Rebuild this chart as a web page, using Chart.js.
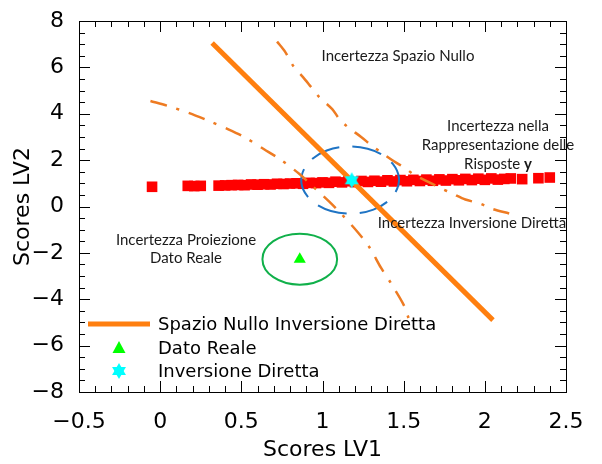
<!DOCTYPE html>
<html>
<head>
<meta charset="utf-8">
<script src="https://cdn.jsdelivr.net/npm/chart.js@4.4.1/dist/chart.umd.min.js"></script>
<style>
  html, body { margin: 0; padding: 0; background: #fff; }
  #wrap { width: 602px; height: 464px; }
</style>
</head>
<body>
<div id="wrap"><canvas id="scores" width="602" height="464"></canvas></div>
<script>
// Scores LV1 / LV2 of the projected samples
const redX = [-0.05, 0.17, 0.21, 0.25, 0.36, 0.40, 0.44, 0.48, 0.52, 0.56, 0.60, 0.64, 0.68, 0.72, 0.76,
  0.80, 0.84, 0.88, 0.92, 0.96, 1.00, 1.04, 1.08, 1.12, 1.16, 1.20, 1.24, 1.28, 1.32, 1.36, 1.40,
  1.44, 1.48, 1.52, 1.56, 1.60, 1.64, 1.68, 1.72, 1.76, 1.80, 1.84, 1.88, 1.92, 1.96, 2.00, 2.04,
  2.08, 2.12, 2.16, 2.23, 2.33, 2.40];
const redY = [0.85, 0.89, 0.88, 0.89, 0.90, 0.91, 0.92, 0.93, 0.92, 0.95, 0.94, 0.96, 0.95, 0.98, 0.97,
  0.99, 1.00, 0.98, 1.02, 1.01, 1.04, 1.02, 1.07, 1.04, 1.09, 1.05, 1.10, 1.06, 1.11, 1.07, 1.13,
  1.08, 1.14, 1.09, 1.15, 1.10, 1.16, 1.11, 1.17, 1.12, 1.18, 1.13, 1.19, 1.14, 1.20, 1.15, 1.21,
  1.16, 1.19, 1.21, 1.18, 1.22, 1.25];

// null space of the direct inversion
const nullX = [0.32, 2.05];
const nullY = [7.05, -4.90];

// uncertainty bands around the null space (two branches)
const bandAX = [-0.06, 0.05, 0.18, 0.29, 0.42, 0.52, 0.64, 0.74, 0.86, 0.94, 1.04, 1.12, 1.22, 1.29, 1.36, 1.42, 1.50, 1.53];
const bandAY = [4.55, 4.33, 4.03, 3.72, 3.33, 2.99, 2.47, 2.03, 1.39, 0.87, 0.22, -0.35, -1.13, -1.77, -2.64, -3.29, -4.24, -4.81];
const bandBX = [0.72, 0.77, 0.82, 0.88, 0.93, 0.98, 1.06, 1.10, 1.15, 1.24, 1.30, 1.36, 1.44, 1.51, 1.56, 1.67, 1.73, 1.80, 1.88, 1.97, 2.04, 2.15];
const bandBY = [7.11, 6.67, 6.06, 5.58, 5.15, 4.72, 4.20, 3.81, 3.46, 2.99, 2.64, 2.34, 1.95, 1.65, 1.39, 1.00, 0.78, 0.56, 0.30, 0.13, -0.09, -0.30];

const realPoint = [0.86, -2.27];
const directPoint = [1.18, 1.13];

// ellipses: [cx, cy, rx, ry]
const realEllipse = [0.86, -2.27, 0.23, 1.10];
const directEllipse = [1.17, 1.14, 0.30, 1.45];

const xTicks = [-0.5, 2.5, 0.5, 0.1];   // min, max, major step, minor step
const yTicks = [-8, 8, 2, 0.5];

const legendLabels = ['Spazio Nullo Inversione Diretta', 'Dato Reale', 'Inversione Diretta'];

const ORANGE = '#ff7f0f';
const ORANGE_DD = '#ee7b22';
const RED_INDEX = 5;
const NOTE_FONT = '15px Lato';

function pts(xs, ys) { return xs.map((x, i) => ({ x: x, y: ys[i] })); }

function fmt(v) {
  const r = Math.round(v * 10) / 10;
  return r < 0 ? '\u2212' + String(-r) : String(r);
}

// six pointed star marker
function makeHexagram(r, color) {
  const c = document.createElement('canvas');
  const s = Math.ceil(r * 2 + 2);
  c.width = s; c.height = s;
  const g = c.getContext('2d');
  const cx = s / 2, cy = s / 2;
  g.fillStyle = color;
  for (let k = 0; k < 2; k++) {
    g.beginPath();
    for (let j = 0; j < 3; j++) {
      const a = -Math.PI / 2 + k * Math.PI + j * 2 * Math.PI / 3;
      const px = cx + r * Math.cos(a), py = cy + r * Math.sin(a);
      if (j === 0) g.moveTo(px, py); else g.lineTo(px, py);
    }
    g.closePath();
    g.fill();
  }
  return c;
}
const starImg = makeHexagram(8, '#00ffff');

function drawEllipse(ctx, chart, e, color, dash, start) {
  const xs = chart.scales.x, ys = chart.scales.y;
  const px = xs.getPixelForValue(e[0]), py = ys.getPixelForValue(e[1]);
  const rx = Math.abs(xs.getPixelForValue(e[0] + e[2]) - px);
  const ry = Math.abs(ys.getPixelForValue(e[1] + e[3]) - py);
  ctx.save();
  ctx.beginPath();
  ctx.ellipse(px, py, rx, ry, 0, start, start + 2 * Math.PI);
  ctx.setLineDash(dash);
  ctx.strokeStyle = color;
  ctx.lineWidth = 2;
  ctx.stroke();
  ctx.restore();
}

function centerText(ctx, text, x, y) {
  ctx.fillText(text, x - ctx.measureText(text).width / 2, y);
}

const decor = {
  id: 'decor',
  afterDatasetDraw(chart, args) {
    if (args.index !== RED_INDEX) return;
    const ctx = chart.ctx;
    drawEllipse(ctx, chart, realEllipse, '#10b04a', [], 0);
    drawEllipse(ctx, chart, directEllipse, '#1f74c4', [30, 13], -0.5);
  },
  afterDraw(chart) {
    const ctx = chart.ctx;
    const { left, right, top, bottom } = chart.chartArea;
    const xs = chart.scales.x, ys = chart.scales.y;
    ctx.save();

    // frame and inward ticks on all four sides
    ctx.strokeStyle = '#000';
    ctx.lineWidth = 1;
    ctx.strokeRect(Math.round(left) + 0.5, Math.round(top) + 0.5, Math.round(right - left), Math.round(bottom - top));
    ctx.beginPath();
    const nx = Math.round((xTicks[1] - xTicks[0]) / xTicks[3]);
    const xEvery = Math.round(xTicks[2] / xTicks[3]);
    for (let i = 0; i <= nx; i++) {
      const p = Math.round(xs.getPixelForValue(xTicks[0] + i * xTicks[3])) + 0.5;
      const len = i % xEvery === 0 ? 11 : 6;
      ctx.moveTo(p, bottom); ctx.lineTo(p, bottom - len);
      ctx.moveTo(p, top); ctx.lineTo(p, top + len);
    }
    const ny = Math.round((yTicks[1] - yTicks[0]) / yTicks[3]);
    const yEvery = Math.round(yTicks[2] / yTicks[3]);
    for (let i = 0; i <= ny; i++) {
      const p = Math.round(ys.getPixelForValue(yTicks[0] + i * yTicks[3])) + 0.5;
      const len = i % yEvery === 0 ? 11 : 6;
      ctx.moveTo(left, p); ctx.lineTo(left + len, p);
      ctx.moveTo(right, p); ctx.lineTo(right - len, p);
    }
    ctx.stroke();

    // region labels
    ctx.fillStyle = '#1a1a1a';
    ctx.font = NOTE_FONT;
    ctx.textBaseline = 'middle';
    centerText(ctx, 'Incertezza Spazio Nullo', 398, 56);
    centerText(ctx, 'Incertezza nella', 498, 126);
    centerText(ctx, 'Rappresentazione delle', 498, 145);
    const w1 = ctx.measureText('Risposte ').width;
    ctx.font = 'bold ' + NOTE_FONT;
    const w2 = ctx.measureText('y').width;
    ctx.font = NOTE_FONT;
    ctx.fillText('Risposte ', 498 - (w1 + w2) / 2, 164);
    ctx.font = 'bold ' + NOTE_FONT;
    ctx.fillText('y', 498 - (w1 + w2) / 2 + w1, 164);
    ctx.font = NOTE_FONT;
    centerText(ctx, 'Incertezza Inversione Diretta', 472, 223);
    centerText(ctx, 'Incertezza Proiezione', 186, 240);
    centerText(ctx, 'Dato Reale', 186, 258);

    // legend inside the axes
    ctx.font = '18px "DejaVu Sans"';
    const rows = [324, 348, 371];
    ctx.strokeStyle = ORANGE;
    ctx.lineWidth = 5;
    ctx.setLineDash([]);
    ctx.beginPath();
    ctx.moveTo(88, rows[0]); ctx.lineTo(150, rows[0]);
    ctx.stroke();
    ctx.fillStyle = '#00ff00';
    ctx.beginPath();
    ctx.moveTo(119, rows[1] - 7); ctx.lineTo(125.5, rows[1] + 5); ctx.lineTo(112.5, rows[1] + 5);
    ctx.closePath();
    ctx.fill();
    ctx.drawImage(starImg, 119 - starImg.width / 2, rows[2] - starImg.height / 2);
    ctx.fillStyle = '#000';
    legendLabels.forEach((t, i) => ctx.fillText(t, 158, rows[i] + 1));
    ctx.restore();
  }
};

const axisFont = { family: 'DejaVu Sans', size: 22 };

new Chart(document.getElementById('scores'), {
  type: 'scatter',
  data: {
    datasets: [
      { label: legendLabels[2], data: pts([directPoint[0]], [directPoint[1]]), pointStyle: starImg, pointRadius: 8 },
      { label: legendLabels[1], data: pts([realPoint[0]], [realPoint[1]]), pointStyle: 'triangle', pointRadius: 7,
        backgroundColor: '#00ff00', borderColor: '#00ff00', borderWidth: 0 },
      { label: legendLabels[0], data: pts(nullX, nullY), showLine: true, borderColor: ORANGE, borderWidth: 5,
        pointRadius: 0 },
      { data: pts(bandAX, bandAY), showLine: true, borderColor: ORANGE_DD, borderWidth: 2.5, borderDash: [17, 10, 3, 10],
        pointRadius: 0, tension: 0.3 },
      { data: pts(bandBX, bandBY), showLine: true, borderColor: ORANGE_DD, borderWidth: 2.5, borderDash: [17, 10, 3, 10],
        pointRadius: 0, tension: 0.3 },
      { data: pts(redX, redY), pointStyle: 'rect', pointRadius: 7.5, backgroundColor: '#ff0000', borderWidth: 0 }
    ]
  },
  options: {
    responsive: false,
    animation: false,
    layout: { padding: { top: 21, right: 36, bottom: 0, left: 0 } },
    plugins: { legend: { display: false }, tooltip: { enabled: false } },
    scales: {
      x: {
        type: 'linear', min: xTicks[0], max: xTicks[1],
        afterFit(scale) { scale.height = 72; },
        grid: { display: false },
        border: { display: false },
        ticks: { stepSize: xTicks[2], color: '#000', font: axisFont, padding: 9, maxRotation: 0, autoSkip: false,
          callback: v => fmt(v) },
        title: { display: true, text: 'Scores LV1', color: '#000', font: axisFont, padding: { top: 0, bottom: 1 } }
      },
      y: {
        type: 'linear', min: yTicks[0], max: yTicks[1],
        afterFit(scale) { scale.width = 79; },
        grid: { display: false },
        border: { display: false },
        ticks: { stepSize: yTicks[2], color: '#000', font: axisFont, padding: 7, autoSkip: false,
          callback: v => fmt(v) },
        title: { display: true, text: 'Scores LV2', color: '#000', font: axisFont, padding: { top: 10, bottom: 0 } }
      }
    }
  },
  plugins: [decor]
});
</script>
</body>
</html>
